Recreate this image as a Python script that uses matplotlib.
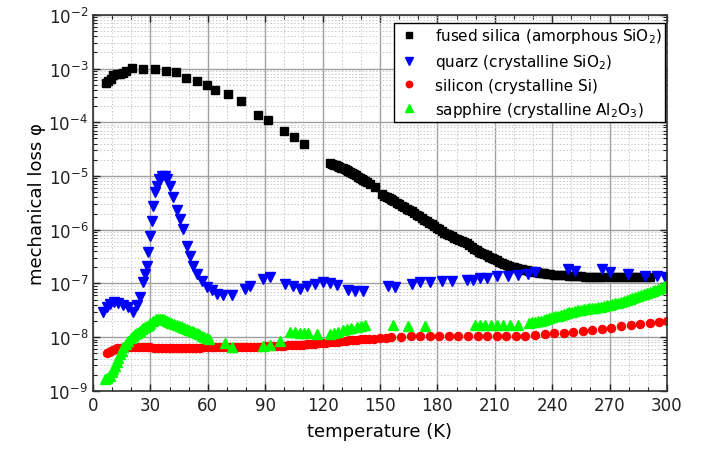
import matplotlib as mpl
mpl.use("Agg")
from matplotlib import pyplot as plt
from matplotlib.ticker import MultipleLocator, LogLocator, LogFormatterMathtext, NullFormatter
import numpy as np

# fused silica (amorphous SiO2): temperature (K), log10 of loss
silica_T = [6.8, 8.0, 9.2, 10.6, 12.4, 14.1, 15.9, 17.2, 20.2, 26.3, 32.4, 38.0, 43.4, 48.6,
            54.2, 59.4, 63.8, 70.7, 77.4, 86.4, 91.6, 99.8, 105.0, 110.5,
            123.9, 124.8, 125.8, 126.8, 127.8, 128.8, 129.8, 130.8, 131.7, 132.6, 133.5,
            134.4, 135.2, 136.3, 137.5, 138.5, 139.6, 140.5, 141.3, 142.2, 143.0, 145.0, 147.4,
            151.0, 152.3, 153.5, 154.5, 155.5, 156.5, 157.5, 158.8, 160.0, 161.3, 162.6,
            164.0, 165.2, 166.5, 167.8, 169.2, 170.5, 171.8, 173.1, 174.4, 175.7, 177.0,
            178.3, 179.6, 181.0, 182.3, 183.6, 184.9, 186.2, 187.5, 188.8, 190.1, 191.4,
            192.7, 194.0, 195.3, 196.6, 198.0, 199.2, 200.5, 201.8, 203.0, 204.4, 205.8,
            207.1, 208.4, 209.7, 211.0, 212.3, 213.6, 214.9, 216.2, 217.5, 218.8, 220.1,
            221.4, 222.7, 224.0, 225.3, 226.7, 228.0, 229.3, 230.6, 231.9, 233.2, 234.5,
            235.8, 237.1, 239.0, 241.0, 243.0, 245.0, 247.0, 249.0, 251.0, 253.0, 255.0,
            257.0, 259.0, 261.0, 263.0, 265.0, 267.0, 271.0, 273.0, 275.0, 277.0, 279.0,
            281.0, 283.0, 285.0, 287.0, 289.0, 291.0]
silica_log = [-3.27, -3.235, -3.19, -3.117, -3.105, -3.093, -3.08, -3.055, -2.99, -3.005, -3.01,
              -3.04, -3.06, -3.18, -3.24, -3.30, -3.40, -3.48, -3.60, -3.86, -3.96, -4.17, -4.28,
              -4.40,
              -4.76, -4.775, -4.79, -4.80, -4.815, -4.83, -4.845, -4.86, -4.875, -4.89, -4.91,
              -4.925, -4.94, -4.96, -4.985, -5.01, -5.035, -5.055, -5.075, -5.09, -5.11, -5.15,
              -5.21,
              -5.34, -5.365, -5.39, -5.41, -5.43, -5.45, -5.47, -5.50, -5.525, -5.55, -5.58,
              -5.61, -5.635, -5.66, -5.69, -5.72, -5.75, -5.78, -5.81, -5.84, -5.87, -5.90,
              -5.935, -5.965, -5.995, -6.025, -6.055, -6.085, -6.105, -6.125, -6.145, -6.165,
              -6.185, -6.205, -6.23, -6.255, -6.29, -6.325, -6.355, -6.385, -6.41, -6.435,
              -6.455, -6.475, -6.50, -6.525, -6.545, -6.57, -6.595, -6.615, -6.635, -6.65,
              -6.67, -6.685, -6.70, -6.715, -6.725, -6.735, -6.745, -6.755, -6.765, -6.775,
              -6.785, -6.795, -6.805, -6.81, -6.815, -6.825, -6.83, -6.835, -6.84, -6.845,
              -6.85, -6.855, -6.86, -6.865, -6.87, -6.875, -6.88, -6.88, -6.885, -6.885,
              -6.885, -6.885, -6.885, -6.885, -6.885, -6.885, -6.885, -6.885, -6.885,
              -6.885, -6.885, -6.885]

# quarz (crystalline SiO2)
quarz_T = [5.4, 7.2, 8.9, 11.0, 13.2, 15.8, 18.5, 21.1, 22.8, 24.6, 26.3, 27.2, 28.1, 28.9,
           29.8, 30.6, 31.5, 32.4, 33.3, 34.5, 35.9, 37.6, 38.8, 40.3, 42.0, 43.8, 45.5,
           47.2, 49.0, 50.7, 52.4, 54.2, 56.8, 59.4, 62.0, 64.7, 68.1, 72.5, 79.5, 82.0,
           89.0, 92.5, 100.4, 104.7, 108.2, 111.7, 116.0, 120.4, 123.9, 127.4, 133.5, 137.0,
           141.3, 154.4, 157.9, 166.6, 171.0, 176.2, 182.3, 187.5, 195.3, 198.8, 202.3,
           205.8, 211.0, 217.1, 222.3, 227.5, 231.0, 248.4, 251.9, 265.9, 270.3, 279.9,
           288.6, 294.7, 299.0]
quarz_log = [-7.536, -7.44, -7.38, -7.35, -7.36, -7.41, -7.44, -7.54, -7.41, -7.26, -6.98,
             -6.82, -6.67, -6.42, -6.11, -5.83, -5.55, -5.30, -5.18, -5.05, -5.00, -5.00,
             -5.05, -5.18, -5.39, -5.64, -5.80, -5.985, -6.30, -6.48, -6.67, -6.82, -6.95,
             -7.07, -7.13, -7.195, -7.21, -7.21, -7.10, -7.04, -6.92, -6.885, -7.01, -7.04,
             -7.11, -7.04, -7.01, -6.98, -6.99, -7.03, -7.12, -7.15, -7.15, -7.05, -7.07,
             -7.01, -6.98, -6.97, -6.95, -6.95, -6.93, -6.93, -6.905, -6.89, -6.87, -6.855,
             -6.84, -6.82, -6.79, -6.73, -6.76, -6.74, -6.78, -6.82, -6.855, -6.855, -6.885]

# silicon (crystalline Si)
silicon_T = [7.5, 8.5, 9.5, 10.5, 11.5, 12.5, 14.0, 16.0, 18.0, 20.0, 22.0, 24.0, 26.0, 28.0,
             30.0, 32.0, 34.0, 36.0, 38.0, 40.0, 42.0, 44.0, 46.0, 48.0, 50.0, 52.0, 54.0,
             56.0, 58.0, 60.0, 62.0, 64.0, 66.0, 68.0, 70.0, 72.0, 74.0, 76.0, 78.0, 80.0,
             82.0, 84.0, 86.0, 88.0, 90.0, 92.0, 94.0, 96.0, 98.0, 100.0, 102.0, 104.0,
             106.0, 108.0, 110.0, 112.0, 114.0, 116.0, 118.0, 120.0, 122.0, 124.0, 126.0,
             128.0, 130.0, 132.0, 134.0, 136.0, 138.0, 140.0, 142.0, 144.0, 147.0, 150.0,
             153.0, 156.0, 161.0, 166.0, 171.0, 176.0, 181.0, 186.0, 191.0, 196.0, 201.0,
             206.0, 211.0, 216.0, 221.0, 226.0, 231.0, 236.0, 241.0, 246.0, 251.0, 256.0,
             261.0, 266.0, 271.0, 276.0, 281.0, 286.0, 291.0, 296.0, 299.8]
silicon_log = [-8.30, -8.28, -8.25, -8.23, -8.215, -8.205, -8.195, -8.19, -8.19, -8.19, -8.19,
               -8.19, -8.19, -8.19, -8.19, -8.195, -8.195, -8.195, -8.195, -8.195, -8.195,
               -8.195, -8.195, -8.195, -8.195, -8.195, -8.195, -8.195, -8.19, -8.19, -8.19,
               -8.19, -8.19, -8.19, -8.19, -8.188, -8.186, -8.184, -8.182, -8.18, -8.18,
               -8.178, -8.176, -8.174, -8.172, -8.17, -8.168, -8.165, -8.162, -8.16, -8.155,
               -8.152, -8.148, -8.145, -8.14, -8.135, -8.13, -8.123, -8.117, -8.11, -8.103,
               -8.097, -8.09, -8.083, -8.075, -8.065, -8.058, -8.052, -8.045, -8.04, -8.035,
               -8.03, -8.025, -8.02, -8.01, -8.00, -7.99, -7.985, -7.98, -7.98, -7.98, -7.98,
               -7.98, -7.98, -7.98, -7.98, -7.98, -7.98, -7.975, -7.97, -7.96, -7.95, -7.93,
               -7.915, -7.90, -7.885, -7.87, -7.85, -7.83, -7.80, -7.77, -7.75, -7.74, -7.72,
               -7.69]

# sapphire (crystalline Al2O3)
sapphire_T = [6.3, 7.5, 8.9, 9.8, 10.6, 11.5, 12.4, 13.2, 14.1, 15.0, 15.8, 17.0, 18.5, 20.0,
              21.1, 22.0, 23.0, 24.0, 24.6, 25.5, 26.3, 27.2, 28.1, 29.0, 30.0, 31.5, 33.0,
              34.0, 35.0, 36.0, 36.8, 37.6, 38.5, 39.7, 41.0, 42.4, 43.8, 45.2, 46.5, 47.8,
              49.0, 50.2, 51.5, 52.8, 54.2, 55.6, 57.0, 58.2, 59.4, 60.5, 69.0, 72.5, 89.0,
              92.5, 97.7, 103.0, 105.5, 108.2, 110.5, 112.6, 116.9, 123.9, 126.0, 128.2,
              130.5, 132.6, 135.0, 137.8, 140.0, 142.2, 157.0, 164.8, 173.6, 199.7, 202.3,
              204.9, 208.0, 211.0, 214.5, 218.0, 222.3, 228.0, 229.5, 231.0, 232.5, 234.0,
              235.5, 237.0, 238.5, 240.0, 241.5, 243.0, 244.5, 246.0, 247.5, 249.0, 250.5,
              252.0, 253.5, 255.0, 256.5, 258.0, 259.5, 261.0, 262.5, 264.0, 265.5, 267.0,
              268.5, 270.0, 271.5, 273.0, 274.5, 276.0, 277.5, 279.0, 280.5, 282.0, 283.5,
              285.0, 286.5, 288.0, 289.5, 291.0, 292.5, 294.0, 295.5, 297.0, 298.5, 299.8]
sapphire_log = [-8.78, -8.76, -8.72, -8.65, -8.59, -8.53, -8.47, -8.39, -8.31, -8.25, -8.19,
                -8.12, -8.065, -8.01, -7.97, -7.945, -7.92, -7.90, -7.88, -7.855, -7.83,
                -7.81, -7.79, -7.765, -7.74, -7.69, -7.67, -7.665, -7.66, -7.66, -7.67,
                -7.68, -7.69, -7.71, -7.73, -7.75, -7.77, -7.79, -7.81, -7.83, -7.85, -7.865,
                -7.88, -7.90, -7.92, -7.945, -7.97, -7.995, -8.02, -8.04, -8.10, -8.19,
                -8.17, -8.145, -8.065, -7.90, -7.91, -7.92, -7.92, -7.92, -7.94, -7.94, -7.92,
                -7.90, -7.87, -7.85, -7.83, -7.82, -7.80, -7.77, -7.77, -7.80, -7.80, -7.77,
                -7.77, -7.77, -7.77, -7.77, -7.77, -7.77, -7.77, -7.74, -7.725, -7.71, -7.70,
                -7.69, -7.675, -7.66, -7.64, -7.625, -7.61, -7.60, -7.585, -7.57, -7.55,
                -7.535, -7.525, -7.515, -7.50, -7.49, -7.48, -7.47, -7.465, -7.46, -7.45,
                -7.44, -7.435, -7.42, -7.41, -7.395, -7.385, -7.37, -7.355, -7.34, -7.325,
                -7.31, -7.29, -7.275, -7.26, -7.24, -7.22, -7.20, -7.18, -7.16, -7.14, -7.12,
                -7.10, -7.08, -7.05, -7.01]

labels = ["fused silica (amorphous SiO$_2$)",
          "quarz (crystalline SiO$_2$)",
          "silicon (crystalline Si)",
          "sapphire (crystalline Al$_2$O$_3$)"]

fig = plt.figure(figsize=(7.05, 4.52), dpi=100)
ax = fig.add_axes([0.132, 0.133, 0.814, 0.832])

ax.plot(silica_T, 10**np.array(silica_log), 's', color='black', ms=5.3, label=labels[0])
ax.plot(quarz_T, 10**np.array(quarz_log), 'v', color='#0000ff', ms=6.8, label=labels[1])
ax.plot(silicon_T, 10**np.array(silicon_log), 'o', color='#ff0000', ms=5.8, label=labels[2])
ax.plot(sapphire_T, 10**np.array(sapphire_log), '^', color='#00ff00', ms=6.8, label=labels[3])

ax.set_yscale('log')
ax.set_xlim(0, 300)
ax.set_ylim(1e-9, 1e-2)

ax.xaxis.set_major_locator(MultipleLocator(30))
ax.xaxis.set_minor_locator(MultipleLocator(10))
ax.yaxis.set_major_locator(LogLocator(base=10, numticks=12))
ax.yaxis.set_minor_locator(LogLocator(base=10, subs=np.arange(2, 10), numticks=12))
ax.yaxis.set_major_formatter(LogFormatterMathtext())
ax.yaxis.set_minor_formatter(NullFormatter())

ax.grid(which='major', color='#a0a0a0', lw=1.0, ls='-')
ax.grid(which='minor', color='#c8c8c8', lw=0.7, ls=(0, (1.5, 2)))
ax.set_axisbelow(True)

ax.tick_params(which='both', direction='in', top=True, right=True, labelsize=12, colors='#222222')
ax.tick_params(which='major', length=5, width=1)
ax.tick_params(which='minor', length=3, width=0.8)
for s in ax.spines.values():
    s.set_linewidth(1.2)
    s.set_color('#333333')

ax.set_xlabel('temperature (K)', fontsize=13, labelpad=6)
ax.set_ylabel('mechanical loss φ', fontsize=13, labelpad=2)

leg = ax.legend(loc='upper right', bbox_to_anchor=(665 / 705, 1 - 24 / 452),
                bbox_transform=fig.transFigure, borderaxespad=0, fontsize=11,
                frameon=True, fancybox=False, edgecolor='black', framealpha=1,
                handletextpad=0.9, borderpad=0.2, labelspacing=0.45, handlelength=1.6,
                markerscale=0.8)
leg.get_frame().set_linewidth(1.0)

fig.savefig('out.png', dpi=100)
